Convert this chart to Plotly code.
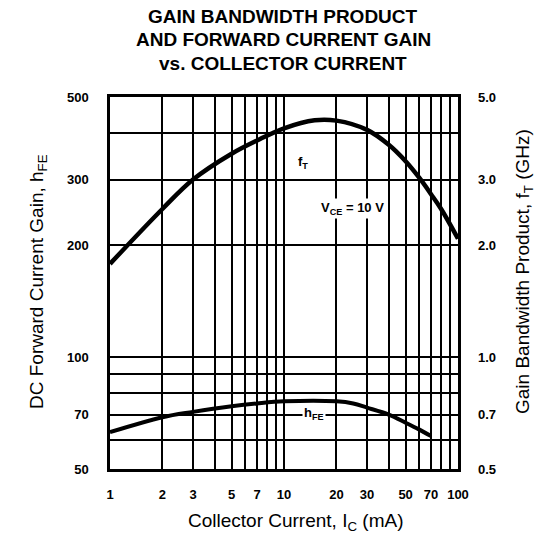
import math
import plotly.graph_objects as go

# ---- data ----
ic_ft = [1, 2, 3, 5, 7, 10, 15, 20, 30, 40, 50, 60, 70, 80, 100]
ft_ghz = [1.78, 2.5, 3.0, 3.52, 3.82, 4.12, 4.33, 4.32, 4.08, 3.72, 3.36, 3.03, 2.74, 2.5, 2.08]

ic_hfe = [1, 2, 3, 5, 7, 10, 20, 25, 30, 40, 50, 60, 70]
hfe = [62.8, 68.9, 71.2, 73.7, 75.0, 76.0, 76.0, 75.0, 73.1, 70.0, 66.6, 63.8, 61.3]

x_tickvals = [1, 2, 3, 4, 5, 6, 7, 8, 9, 10, 20, 30, 40, 50, 60, 70, 80, 90, 100]
x_ticktext = ["1", "2", "3", "", "5", "", "7", "", "", "10", "20", "30", "", "50", "", "70", "", "", "100"]

y_tickvals = [50, 60, 70, 80, 90, 100, 200, 300, 400, 500]
y_ticktext = ["50", "", "70", "", "", "100", "200", "300", "", "500"]

y2_tickvals = [0.5, 0.6, 0.7, 0.8, 0.9, 1.0, 2.0, 3.0, 4.0, 5.0]
y2_ticktext = ["0.5", "", "0.7", "", "", "1.0", "2.0", "3.0", "", "5.0"]

title_lines = ["GAIN BANDWIDTH PRODUCT", "AND FORWARD CURRENT GAIN", "vs. COLLECTOR CURRENT"]

FONT = "Liberation Sans, Arial, sans-serif"
W, H = 539, 541
L, R, T, B = 110, 81, 97, 72
PW, PH = W - L - R, H - T - B


def px(xpage):
    return (xpage - L) / PW


def py(ypage):
    return (H - B - ypage) / PH


fig = go.Figure()
fig.add_trace(go.Scatter(x=ic_hfe, y=hfe, mode="lines", line=dict(color="black", width=4, shape="spline"),
                         yaxis="y", showlegend=False, hoverinfo="skip"))
fig.add_trace(go.Scatter(x=ic_ft, y=ft_ghz, mode="lines", line=dict(color="black", width=4.5, shape="spline"),
                         yaxis="y2", showlegend=False, hoverinfo="skip"))

tick_font = dict(family=FONT, size=13, color="black", weight="bold")

fig.update_layout(
    width=W, height=H,
    margin=dict(l=L, r=R, t=T, b=B),
    paper_bgcolor="white", plot_bgcolor="white",
    font=dict(family=FONT, color="black"),
    xaxis=dict(
        type="log", range=[0, 2],
        tickmode="array", tickvals=x_tickvals, ticktext=x_ticktext,
        showgrid=True, gridcolor="black", gridwidth=2,
        showline=True, linecolor="black", linewidth=2.5, mirror=True,
        ticks="", ticklabelstandoff=12,
        tickfont=tick_font, zeroline=False,
    ),
    yaxis=dict(
        type="log", range=[math.log10(50), math.log10(500)],
        tickmode="array", tickvals=y_tickvals, ticktext=y_ticktext,
        showgrid=True, gridcolor="black", gridwidth=2,
        showline=True, linecolor="black", linewidth=2.5, mirror=True,
        ticks="", ticklabelstandoff=16,
        tickfont=tick_font, zeroline=False,
    ),
    yaxis2=dict(
        type="log", range=[math.log10(0.5), math.log10(5)],
        overlaying="y", side="right",
        tickmode="array", tickvals=y2_tickvals, ticktext=y2_ticktext,
        showgrid=False, showline=False,
        ticks="", ticklabelstandoff=19,
        tickfont=tick_font, zeroline=False,
    ),
)

# title (three lines)
title_font = dict(family=FONT, size=19, color="black", weight="bold")
for line, yc in zip(title_lines, [17, 40, 63]):
    fig.add_annotation(x=px(283), y=py(yc), xref="paper", yref="paper", text=line,
                       showarrow=False, font=title_font, xanchor="center", yanchor="middle")

ann_font = dict(family=FONT, size=13, color="black", weight="bold")
fig.add_annotation(x=math.log10(12.9), y=math.log10(3.34), xref="x", yref="y2",
                   text="f<sub>T</sub>", showarrow=False, font=ann_font, bgcolor="white")
fig.add_annotation(x=math.log10(24.6), y=math.log10(2.51), xref="x", yref="y2",
                   text="V<sub>CE</sub> = 10 V", showarrow=False, font=ann_font, bgcolor="white")
fig.add_annotation(x=math.log10(14.9), y=math.log10(70.5), xref="x", yref="y",
                   text="h<sub>FE</sub>", showarrow=False, font=ann_font, bgcolor="white")

# axis titles
axis_title_font = dict(family=FONT, size=19, color="black")
fig.add_annotation(x=px(38), y=py(282), xref="paper", yref="paper",
                   text="DC Forward Current Gain, h<sub>FE</sub>", textangle=-90,
                   showarrow=False, font=axis_title_font, xanchor="center", yanchor="middle")
fig.add_annotation(x=px(524), y=py(272), xref="paper", yref="paper",
                   text="Gain Bandwidth Product, f<sub>T</sub> (GHz)", textangle=-90,
                   showarrow=False, font=axis_title_font, xanchor="center", yanchor="middle")
fig.add_annotation(x=px(296), y=py(522), xref="paper", yref="paper",
                   text="Collector Current, I<sub>C</sub> (mA)",
                   showarrow=False, font=axis_title_font, xanchor="center", yanchor="middle")

fig.write_html("out.html", config={"displayModeBar": False},
               post_script="document.body.style.margin='0';")
